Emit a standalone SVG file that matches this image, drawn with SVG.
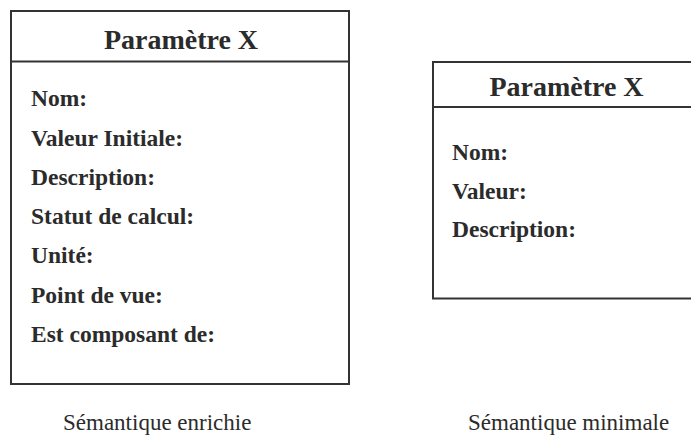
<svg xmlns="http://www.w3.org/2000/svg" width="691" height="435" viewBox="0 0 691 435">
<style>
.box{fill:#fff;stroke:#333;stroke-width:2}
.sep{stroke:#333;stroke-width:2}
.title{font-family:"Liberation Serif","Times New Roman",serif;font-weight:bold;font-size:28px;fill:#2b2b2b;text-anchor:middle}
.lab{font-family:"Liberation Serif","Times New Roman",serif;font-weight:bold;font-size:23.5px;fill:#2b2b2b}
.cap{font-family:"Liberation Serif","Times New Roman",serif;font-size:23px;fill:#2b2b2b}
</style>
<rect width="691" height="435" fill="#fff"/>
<g id="enrichie">
<rect class="box" x="11" y="11" width="338" height="373"/>
<line class="sep" x1="11" y1="61.5" x2="349" y2="61.5"/>
<text class="title" x="181" y="48.5">Paramètre X</text>
<text class="lab" x="31" y="106">Nom:</text>
<text class="lab" x="31" y="145.5">Valeur Initiale:</text>
<text class="lab" x="31" y="184.5">Description:</text>
<text class="lab" x="31" y="224">Statut de calcul:</text>
<text class="lab" x="31" y="263">Unité:</text>
<text class="lab" x="31" y="302.5">Point de vue:</text>
<text class="lab" x="31" y="342">Est composant de:</text>
</g>
<g id="minimale">
<rect class="box" x="433" y="62" width="270" height="236.5"/>
<line class="sep" x1="433" y1="107" x2="691" y2="107"/>
<text class="title" x="566.5" y="96">Paramètre X</text>
<text class="lab" x="452" y="160">Nom:</text>
<text class="lab" x="452" y="198.5">Valeur:</text>
<text class="lab" x="452" y="237">Description:</text>
</g>
<g id="captions">
<text class="cap" x="63" y="430">Sémantique enrichie</text>
<text class="cap" x="468" y="430">Sémantique minimale</text>
</g>
<g id="connectors"></g>
</svg>
